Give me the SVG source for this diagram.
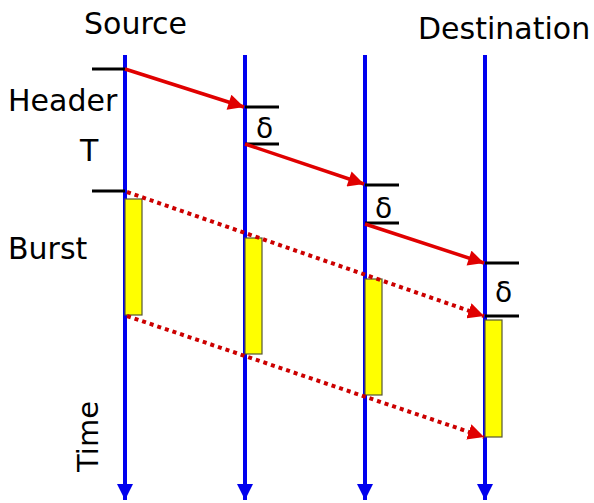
<svg xmlns="http://www.w3.org/2000/svg" width="594" height="503" viewBox="0 0 594 503">
<defs>
<style>
.lane{stroke:#0000ee;stroke-width:4;fill:none}
.tick{stroke:#000;stroke-width:3}
.msg{stroke:#e00000;stroke-width:3.5;fill:none}
.burst{stroke:#cc0000;stroke-width:4;stroke-dasharray:4 4;fill:none}
.blk{fill:#ffff00;stroke:#555533;stroke-width:1.2}
text{font-family:"DejaVu Sans","Verdana",sans-serif;fill:#000}
.lbl{font-size:30px}
.d{font-size:28px}
</style>
<marker id="ah" viewBox="0 0 10 10" refX="10" refY="5" markerWidth="5" markerHeight="4.5" orient="auto" markerUnits="strokeWidth"><path d="M0,0L10,5L0,10z" fill="#e00000"/></marker>
<marker id="ahd" viewBox="0 0 10 10" refX="10" refY="5" markerWidth="4" markerHeight="4" orient="auto" markerUnits="strokeWidth"><path d="M0,0L10,5L0,10z" fill="#e00000"/></marker>
<marker id="ab" viewBox="0 0 10 10" refX="10" refY="5" markerWidth="4" markerHeight="4" orient="auto" markerUnits="strokeWidth"><path d="M0,0L10,5L0,10z" fill="#0000ee"/></marker>
</defs>
<g id="labels">
<text class="lbl" x="84" y="34">Source</text>
<text class="lbl" x="418" y="39">Destination</text>
<text class="lbl" x="8" y="111">Header</text>
<text class="lbl" x="80" y="161">T</text>
<text class="lbl" x="8" y="259">Burst</text>
<text class="lbl" style="font-size:29px" transform="translate(98,472) rotate(-90)">Time</text>
</g>
<g id="lane1"><line class="lane" x1="125" y1="55" x2="125" y2="500" marker-end="url(#ab)"/></g>
<g id="lane2"><line class="lane" x1="245" y1="55" x2="245" y2="500" marker-end="url(#ab)"/></g>
<g id="lane3"><line class="lane" x1="365" y1="55" x2="365" y2="500" marker-end="url(#ab)"/></g>
<g id="lane4"><line class="lane" x1="485" y1="55" x2="485" y2="500" marker-end="url(#ab)"/></g>
<g id="ticks">
<line class="tick" x1="92" y1="69" x2="125" y2="69"/>
<line class="tick" x1="92" y1="191" x2="125" y2="191"/>
<line class="tick" x1="245" y1="107" x2="279" y2="107"/>
<line class="tick" x1="245" y1="144" x2="279" y2="144"/>
<line class="tick" x1="365" y1="185" x2="399" y2="185"/>
<line class="tick" x1="365" y1="223" x2="399" y2="223"/>
<line class="tick" x1="485" y1="263" x2="519" y2="263"/>
<line class="tick" x1="485" y1="316" x2="519" y2="316"/>
<text class="d" x="256" y="138">δ</text>
<text class="d" x="375" y="218">δ</text>
<text class="d" x="495" y="302">δ</text>
</g>
<g id="bursts">
<rect class="blk" x="125" y="199" width="17" height="116"/>
<rect class="blk" x="245" y="238" width="17" height="116"/>
<rect class="blk" x="365" y="279" width="17" height="116"/>
<rect class="blk" x="485" y="320" width="17" height="117"/>
</g>
<g id="connectors">
<line class="msg" x1="125" y1="69" x2="244" y2="107" marker-end="url(#ah)"/>
<line class="msg" x1="245" y1="144" x2="364" y2="184" marker-end="url(#ah)"/>
<line class="msg" x1="365" y1="224" x2="484" y2="263" marker-end="url(#ah)"/>
<line class="burst" x1="127" y1="192" x2="484" y2="316" marker-end="url(#ahd)"/>
<line class="burst" x1="127" y1="316" x2="484" y2="437" marker-end="url(#ahd)"/>
</g>
</svg>
